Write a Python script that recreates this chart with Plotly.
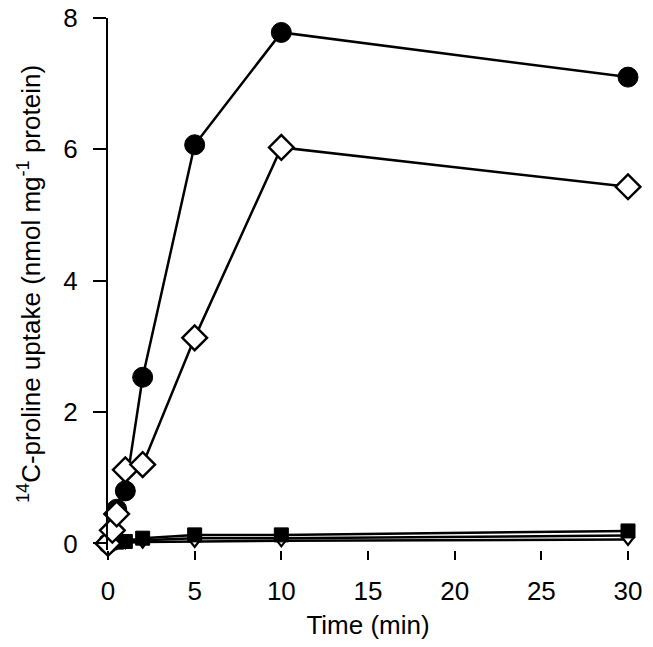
import plotly.graph_objects as go

# Time points (min)
t_circle = [0, 0.5, 1, 2, 5, 10, 30]
v_circle = [0.0, 0.52, 0.8, 2.53, 6.07, 7.78, 7.1]

t_diamond = [0, 0.25, 0.5, 1, 2, 5, 10, 30]
v_diamond = [0.0, 0.2, 0.45, 1.12, 1.2, 3.13, 6.03, 5.43]

t_square = [0, 0.5, 1, 2, 5, 10, 30]
v_square = [0.0, 0.02, 0.03, 0.08, 0.13, 0.13, 0.19]

t_mid = [0, 1, 2, 5, 10, 30]
v_mid = [0.0, 0.02, 0.05, 0.08, 0.08, 0.12]

t_triangle = [0, 0.25, 0.5, 1, 2, 5, 10, 30]
v_triangle = [0.0, 0.0, 0.0, 0.01, 0.02, 0.03, 0.04, 0.06]

x_ticks = [0, 5, 10, 15, 20, 25, 30]
y_ticks = [0, 2, 4, 6, 8]

fig = go.Figure()

line_style = dict(color="black", width=2.5)

fig.add_trace(go.Scatter(x=t_triangle, y=v_triangle, mode="lines+markers",
                         line=line_style, cliponaxis=False,
                         marker=dict(symbol="triangle-down", size=11, color="white",
                                     line=dict(color="black", width=2.2))))
fig.add_trace(go.Scatter(x=t_mid, y=v_mid, mode="lines",
                         line=line_style, cliponaxis=False))
fig.add_trace(go.Scatter(x=t_square, y=v_square, mode="lines+markers",
                         line=line_style, cliponaxis=False,
                         marker=dict(symbol="square", size=14, color="black",
                                     line=dict(color="black", width=1))))
fig.add_trace(go.Scatter(x=t_circle, y=v_circle, mode="lines+markers",
                         line=line_style, cliponaxis=False,
                         marker=dict(symbol="circle", size=20, color="black",
                                     line=dict(color="black", width=1))))
fig.add_trace(go.Scatter(x=t_diamond, y=v_diamond, mode="lines+markers",
                         line=line_style, cliponaxis=False,
                         marker=dict(symbol="diamond", size=19, color="white",
                                     line=dict(color="black", width=2.4))))

font = dict(family="Liberation Sans, Arial, sans-serif", size=26, color="black")

fig.update_layout(
    width=653, height=647,
    margin=dict(l=108, r=25, t=18, b=97),
    paper_bgcolor="white", plot_bgcolor="white",
    showlegend=False,
    font=font,
    xaxis=dict(range=[0, 30], tickvals=x_ticks, ticktext=[str(v) for v in x_ticks],
               automargin=False,
               showgrid=False, zeroline=False, showline=False,
               ticks="outside", ticklen=9, tickwidth=2.4, tickcolor="black",
               ticklabelstandoff=9,
               title=dict(text="Time (min)", font=font, standoff=10)),
    yaxis=dict(range=[-0.1, 8], tickvals=y_ticks, ticktext=[str(v) for v in y_ticks],
               automargin=False,
               showgrid=False, zeroline=False, showline=True, linecolor="black", linewidth=2.4,
               ticks="outside", ticklen=13, tickwidth=2.4, tickcolor="black",
               ticklabelstandoff=10,
               title=dict(text="<sup>14</sup>C-proline uptake (nmol mg<sup>-1</sup> protein)",
                          font=font, standoff=15)),
)

fig.write_html("out.html",
               config={"displayModeBar": False},
               post_script="document.body.style.margin='0';document.body.style.overflow='hidden';")
